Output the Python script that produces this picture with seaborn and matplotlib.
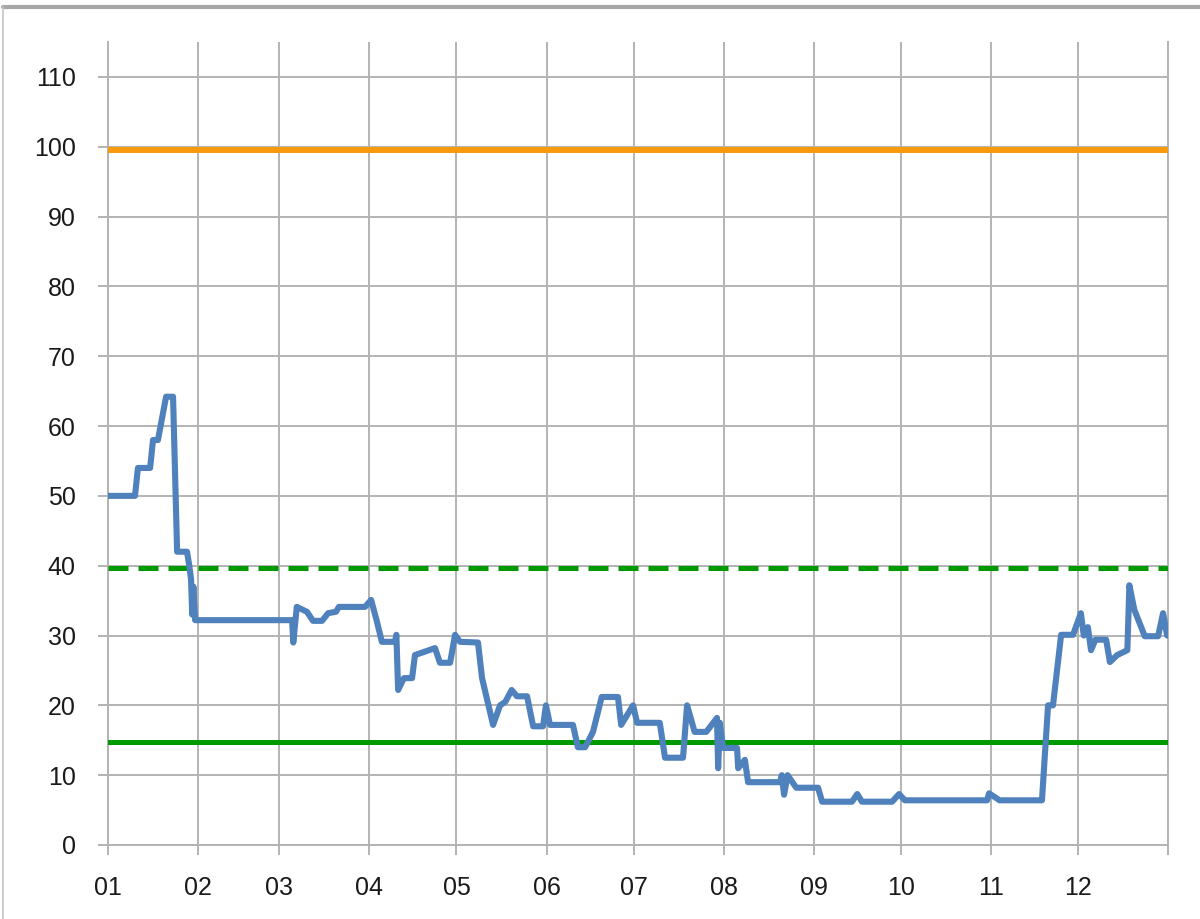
import numpy as np
import pandas as pd
import matplotlib
matplotlib.use('Agg')
import matplotlib.pyplot as plt
from matplotlib.lines import Line2D
import seaborn as sns

# ==================== 数据 ====================
# 日序号 (0 = 1月1日) 与对应数值
days = [0, 9.3, 10.3, 14.5, 15.5, 17.2, 20, 22.4, 23.8, 27.2, 28, 28.6, 29, 29.4, 30,
        63.4, 63.8, 65, 68.5, 70.6, 73.7, 75.8, 78.5, 79.5, 88.5, 90.6, 92.6, 94.3,
        98.8, 99.3, 99.9, 101.9, 104.7, 105.7, 112.6, 114.3, 117.8, 119.5, 121.2,
        127.4, 128.8, 132.6, 135, 136.8, 139, 140.8, 144.3, 146.4, 149.8, 150.8,
        152.2, 160.1, 161.8, 164.3, 167, 170, 175.6, 176.7, 180.8, 182.2, 190,
        191.8, 198, 199.4, 202, 206, 209.7, 210.1, 210.7, 211.8, 216.6, 217, 219.3,
        220.4, 231.4, 232, 232.8, 234, 237, 244.5, 245.9, 256.2, 258, 259.6, 270,
        272.4, 274.4, 302.7, 303.4, 307, 321.6, 323.7, 325.4, 328.2, 332.3, 335,
        336, 337.4, 338.5, 340, 343.7, 345, 347.5, 351, 351.7, 353.4, 357, 361.6,
        363.3, 364.7]
values = [50, 50, 54, 54, 58, 58, 64.2, 64.2, 42, 42, 40, 38, 33, 37, 32.2,
          32.2, 29, 34.1, 33.4, 32.1, 32.1, 33.2, 33.4, 34.1, 34.1, 35.1, 32, 29.1,
          29.1, 30.1, 22.2, 23.9, 23.9, 27.2, 28.2, 26.1, 26.1, 30.1, 29.1,
          29, 23.9, 17.2, 20, 20.5, 22.2, 21.3, 21.3, 17, 17, 20,
          17.2, 17.2, 14, 14, 16.2, 21.2, 21.2, 17.2, 20, 17.5, 17.5,
          12.5, 12.5, 20, 16.2, 16.2, 18.2, 11, 17.5, 13.9, 13.9, 11, 12.2,
          9, 9, 10, 7.2, 10, 8.2, 8.2, 6.2, 6.2, 7.3, 6.2, 6.2,
          7.3, 6.4, 6.4, 7.4, 6.4, 6.4, 20, 20, 30.1, 30.1, 33.2,
          30, 31.2, 27.9, 29.4, 29.4, 26.2, 27.2, 27.9, 37.2, 33.7, 29.9, 29.9,
          33.2, 30]

# 参考线
upper_limit = 99.5      # 橙色
warn_level = 39.7       # 绿色虚线
target_level = 14.8     # 绿色实线

month_labels = ['01', '02', '03', '04', '05', '06', '07', '08', '09', '10', '11', '12']
month_lengths = [31, 28, 31, 30, 31, 30, 31, 31, 30, 31, 30, 31]
y_ticks = list(range(0, 111, 10))

df = pd.DataFrame({'day': days, 'value': values})

# ==================== 样式 ====================
sns.set_theme(style='whitegrid')
plt.rcParams['font.family'] = ['Liberation Sans', 'DejaVu Sans']

grid_c = '#b3b3b3'
text_c = '#1a1a1a'

fig = plt.figure(figsize=(12, 9.19), dpi=100)
ax = fig.add_axes([108 / 1200, 74 / 919, 1060 / 1200, 803 / 919])

ax.axhline(upper_limit, color='#f79b0c', lw=4.3, zorder=3)
ax.axhline(warn_level, color='#009a00', lw=3.6, ls=(0, (4, 2)), zorder=3)
ax.axhline(target_level, color='#009a00', lw=3.6, zorder=3)

sns.lineplot(data=df, x='day', y='value', sort=False, ax=ax,
             color='#4f81bd', lw=4.4, zorder=4,
             solid_joinstyle='round', solid_capstyle='round')

month_starts = np.concatenate([[0], np.cumsum(month_lengths)])
ax.set_xlim(0, 365)
ax.set_ylim(0, 115)
ax.set_xticks(month_starts)
ax.set_xticklabels(month_labels + [''])
ax.set_yticks(y_ticks)
ax.set_xlabel('')
ax.set_ylabel('')

ax.grid(True, color=grid_c, lw=1.4)
ax.tick_params(axis='both', which='major', length=7.2, width=1.4, color=grid_c,
               labelsize=18, labelcolor=text_c)
ax.tick_params(axis='x', pad=15, bottom=True)
ax.tick_params(axis='y', pad=16, left=True)
for side in ['left', 'bottom', 'right']:
    ax.spines[side].set_visible(True)
    ax.spines[side].set_color(grid_c)
    ax.spines[side].set_linewidth(1.4)
ax.spines['top'].set_visible(False)

# 外边框
fig.add_artist(Line2D([3 / 1200, 1], [1 - 7 / 919, 1 - 7 / 919], transform=fig.transFigure,
                      color='#a6a6a6', lw=3))
fig.add_artist(Line2D([3 / 1200, 3 / 1200], [0, 1 - 7 / 919], transform=fig.transFigure,
                      color='#c4c4c4', lw=1.2))

plt.savefig('out.png', dpi=100)
plt.close()
